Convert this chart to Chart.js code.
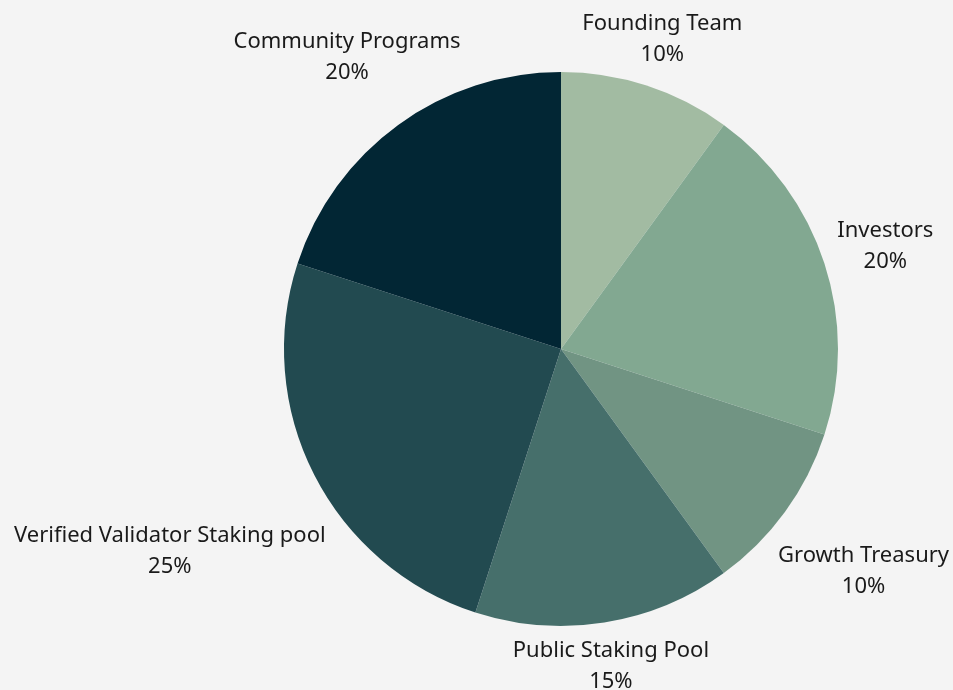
<!DOCTYPE html>
<html>
<head>
<meta charset="utf-8">
<script src="https://cdn.jsdelivr.net/npm/chart.js@4"></script>
<style>
  html, body { margin: 0; padding: 0; background: #f4f4f4; }
  #wrap { width: 953px; height: 690px; }
</style>
</head>
<body>
<div id="wrap"><canvas id="grafico"></canvas></div>
<script>
const categorias = ['Founding Team', 'Investors', 'Growth Treasury', 'Public Staking Pool', 'Verified Validator Staking pool', 'Community Programs'];
const valores = [10, 20, 10, 15, 25, 20];
const cores = ['#a2bba2', '#82a891', '#719483', '#466f6b', '#224a50', '#022634'];
// how far out each label sits, as a multiple of the radius
const distRotulo = [1.184, 1.231, 1.35, 1.152, 1.585, 1.314];

const rotulosPlugin = {
  id: 'rotulos',
  afterDatasetsDraw(chart) {
    const ctx = chart.ctx;
    const meta = chart.getDatasetMeta(0);
    ctx.save();
    ctx.font = '22px "Noto Sans", sans-serif';
    ctx.fillStyle = '#1a1a1a';
    ctx.textAlign = 'center';
    ctx.textBaseline = 'middle';
    meta.data.forEach((arc, i) => {
      const meio = (arc.startAngle + arc.endAngle) / 2;
      const r = arc.outerRadius * distRotulo[i];
      const x = arc.x + Math.cos(meio) * r;
      const y = arc.y + Math.sin(meio) * r;
      ctx.fillText(categorias[i], x, y - 13);
      ctx.fillText(valores[i] + '%', x, y + 18);
    });
    ctx.restore();
  }
};

new Chart(document.getElementById('grafico').getContext('2d'), {
  type: 'pie',
  data: {
    labels: categorias,
    datasets: [{
      data: valores,
      backgroundColor: cores,
      borderWidth: 0
    }]
  },
  options: {
    responsive: true,
    maintainAspectRatio: false,
    animation: false,
    layout: { padding: { top: 72, bottom: 64, left: 284, right: 115 } },
    plugins: {
      legend: { display: false },
      tooltip: { enabled: false }
    }
  },
  plugins: [rotulosPlugin]
});
</script>
</body>
</html>
